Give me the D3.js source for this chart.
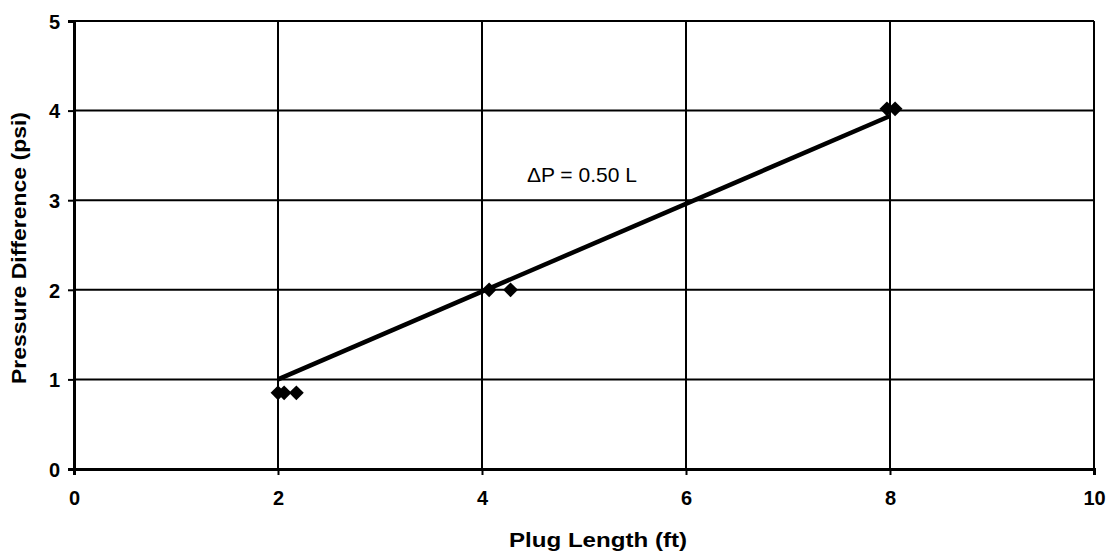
<!DOCTYPE html>
<html>
<head>
<meta charset="utf-8">
<script src="https://cdn.jsdelivr.net/npm/d3@7"></script>
<style>
  html, body { margin: 0; padding: 0; background: #fff; }
  svg { display: block; }
  text { font-family: Arial, "Liberation Sans", sans-serif; fill: #000; }
</style>
</head>
<body>
<svg id="chart" width="1111" height="554"></svg>
<script>
// ---- data ----
const plugLength = [2.0, 2.06, 2.18, 4.07, 4.28, 7.97, 8.05];
const pressureDiff = [0.85, 0.85, 0.85, 2.0, 2.0, 4.02, 4.02];
const trendX = [2, 8];
const trendY = [1.0, 3.94];
const xTicks = [0, 2, 4, 6, 8, 10];
const yTicks = [0, 1, 2, 3, 4, 5];
const xTitle = "Plug Length (ft)";
const yTitle = "Pressure Difference (psi)";
const equation = "\u0394P = 0.50 L";
const eqPos = [4.44, 3.2];

// ---- layout ----
const svg = d3.select("#chart");
const mLeft = 74, mRight = 1094, mTop = 21, mBottom = 469;
const x = d3.scaleLinear().domain([0, 10]).range([mLeft, mRight]);
const y = d3.scaleLinear().domain([0, 5]).range([mBottom, mTop]);

// gridlines
svg.append("g").selectAll("line").data(yTicks.slice(1)).join("line")
  .attr("x1", mLeft).attr("x2", mRight)
  .attr("y1", d => y(d)).attr("y2", d => y(d))
  .attr("stroke", "#000").attr("stroke-width", 2);
svg.append("g").selectAll("line").data(xTicks.slice(1)).join("line")
  .attr("x1", d => x(d)).attr("x2", d => x(d))
  .attr("y1", mTop).attr("y2", mBottom)
  .attr("stroke", "#000").attr("stroke-width", 2);

// axes
const xAxis = svg.append("g").attr("transform", `translate(0,${mBottom})`)
  .call(d3.axisBottom(x).tickValues(xTicks).tickSize(6).tickPadding(16).tickFormat(d3.format("d")));
const yAxis = svg.append("g").attr("transform", `translate(${mLeft},0)`)
  .call(d3.axisLeft(y).tickValues(yTicks).tickSize(6).tickPadding(8).tickFormat(d3.format("d")));
[xAxis, yAxis].forEach(g => {
  g.select(".domain").attr("stroke", "#000").attr("stroke-width", 3);
  g.selectAll(".tick line").attr("stroke", "#000").attr("stroke-width", 2);
  g.selectAll(".tick text").attr("font-size", 20).attr("font-weight", "bold")
    .attr("font-family", "Arial, 'Liberation Sans', sans-serif").attr("fill", "#000");
});
yAxis.selectAll(".tick text").attr("dy", "0.36em");

// trend line
svg.append("line")
  .attr("x1", x(trendX[0])).attr("y1", y(trendY[0]))
  .attr("x2", x(trendX[1])).attr("y2", y(trendY[1]))
  .attr("stroke", "#000").attr("stroke-width", 4.5);

// diamonds
const pts = plugLength.map((v, i) => [v, pressureDiff[i]]);
svg.append("g").selectAll("path").data(pts).join("path")
  .attr("d", d3.symbol().type(d3.symbolSquare).size(110))
  .attr("transform", d => `translate(${x(d[0])},${y(d[1])}) rotate(45)`)
  .attr("fill", "#000");

// equation label
svg.append("text").attr("x", x(eqPos[0])).attr("y", y(eqPos[1]))
  .attr("font-size", 21).attr("textLength", 110).attr("lengthAdjust", "spacingAndGlyphs")
  .text(equation);

// axis titles
svg.append("text").attr("x", 598).attr("y", 547).attr("text-anchor", "middle")
  .attr("font-size", 20).attr("font-weight", "bold")
  .attr("textLength", 178).attr("lengthAdjust", "spacingAndGlyphs").text(xTitle);
svg.append("text").attr("transform", "translate(26,248) rotate(-90)")
  .attr("text-anchor", "middle")
  .attr("font-size", 20).attr("font-weight", "bold")
  .attr("textLength", 272).attr("lengthAdjust", "spacingAndGlyphs").text(yTitle);
</script>
</body>
</html>
